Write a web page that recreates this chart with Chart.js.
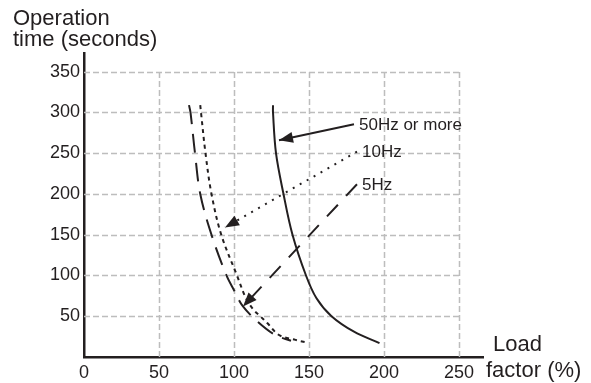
<!DOCTYPE html>
<html><head><meta charset="utf-8">
<script src="https://cdn.jsdelivr.net/npm/chart.js@4/dist/chart.umd.min.js"></script>
<style>html,body{margin:0;padding:0;background:#fff}canvas{display:block}</style>
</head><body>
<canvas id="c" width="591" height="383"></canvas>
<script>
// ---- data ----
const xTickValues = [0, 50, 100, 150, 200, 250];
const yTickValues = [0, 50, 100, 150, 200, 250, 300, 350];

const load50Hz = [126, 126, 128, 133, 139, 148, 155, 165, 180, 197];
const time50Hz = [309, 300, 250, 200, 150, 100, 72, 50, 31, 17];

const load10Hz = [77.5, 78, 81, 85, 91.5, 102, 108, 113, 117.5, 122, 130, 141, 148];
const time10Hz = [309, 300, 250, 200, 150, 100, 72, 58, 50, 42, 27, 21, 18];

const load5Hz = [70, 71, 74, 77.5, 85, 95, 100, 106, 116, 127.5, 138];
const time5Hz = [309, 300, 250, 200, 150, 100, 82, 62, 43, 27, 20];

const curveLabels = ['50Hz or more', '10Hz', '5Hz'];
const arrowStartLoad = [180, 182, 182];
const arrowStartTime = [285.5, 252, 212];
const arrowTipLoad = [130, 94, 106];
const arrowTipTime = [266, 159, 62];

const xTitle = ['Load', 'factor (%)'];
const yTitle = ['Operation', 'time (seconds)'];

// ---- build ----
const INK = '#231f20';
const pts = (xs, ys) => xs.map((x, i) => ({x, y: ys[i]}));
const curveStyles = [
  {borderDash: []},
  {borderDash: [4, 4]},
  {borderDash: [19, 10]}
];
const arrowDash = [[], [2, 6], [16, 12]];

const datasets = [
  {data: pts(load50Hz, time50Hz), ...curveStyles[0]},
  {data: pts(load10Hz, time10Hz), ...curveStyles[1]},
  {data: pts(load5Hz, time5Hz), ...curveStyles[2]}
].map(d => Object.assign(d, {borderColor: INK, borderWidth: 2, pointRadius: 0, tension: 0.35, fill: false}));

curveLabels.forEach((lab, i) => {
  datasets.push({
    data: [{x: arrowStartLoad[i], y: arrowStartTime[i]}, {x: arrowTipLoad[i], y: arrowTipTime[i]}],
    borderColor: INK, borderWidth: 2, borderDash: arrowDash[i], pointRadius: 0, tension: 0,
    isArrow: true, arrowLabel: lab
  });
});

const gridPlugin = {
  id: 'grid',
  beforeDatasetsDraw(chart) {
    const {ctx, scales: {x, y}} = chart;
    ctx.save();
    ctx.strokeStyle = '#bdbdbd';
    ctx.lineWidth = 1.5;
    ctx.setLineDash([6, 3]);
    const x0 = x.getPixelForValue(0), x1 = x.getPixelForValue(xTickValues[xTickValues.length - 1]);
    const y0 = y.getPixelForValue(0), y1 = y.getPixelForValue(yTickValues[yTickValues.length - 1]);
    xTickValues.forEach(v => {
      if (v === 0) return;
      const px = Math.round(x.getPixelForValue(v)) + 0.5;
      ctx.beginPath(); ctx.moveTo(px, y0); ctx.lineTo(px, y1); ctx.stroke();
    });
    yTickValues.forEach(v => {
      if (v === 0) return;
      const py = Math.round(y.getPixelForValue(v)) + 0.5;
      ctx.beginPath(); ctx.moveTo(x0, py); ctx.lineTo(x1, py); ctx.stroke();
    });
    ctx.restore();
  }
};

const arrowPlugin = {
  id: 'arrows',
  afterDatasetsDraw(chart) {
    const {ctx} = chart;
    ctx.save();
    chart.data.datasets.forEach((ds, i) => {
      if (!ds.isArrow) return;
      const meta = chart.getDatasetMeta(i);
      const p0 = meta.data[0], p1 = meta.data[1];
      const a = Math.atan2(p1.y - p0.y, p1.x - p0.x);
      const L = 14, W = 5.5;
      ctx.fillStyle = INK;
      ctx.beginPath();
      ctx.moveTo(p1.x, p1.y);
      ctx.lineTo(p1.x - L * Math.cos(a) + W * Math.sin(a), p1.y - L * Math.sin(a) - W * Math.cos(a));
      ctx.lineTo(p1.x - L * Math.cos(a) - W * Math.sin(a), p1.y - L * Math.sin(a) + W * Math.cos(a));
      ctx.closePath();
      ctx.fill();
      ctx.font = '17px "Liberation Sans", Arial, sans-serif';
      ctx.textAlign = 'left';
      ctx.textBaseline = 'middle';
      ctx.fillText(ds.arrowLabel, p0.x + 5, p0.y + 1);
    });
    // axis titles
    ctx.font = '22px "Liberation Sans", Arial, sans-serif';
    ctx.textBaseline = 'alphabetic';
    ctx.textAlign = 'left';
    ctx.fillStyle = INK;
    ctx.fillText(yTitle[0], 13, 25);
    ctx.fillText(yTitle[1], 13, 46);
    ctx.fillText(xTitle[0], 493, 351);
    ctx.fillText(xTitle[1], 486, 377);
    ctx.restore();
  }
};

const tickFont = {family: '"Liberation Sans", Arial, sans-serif', size: 18};

new Chart(document.getElementById('c'), {
  type: 'line',
  data: {datasets},
  options: {
    responsive: false,
    animation: false,
    events: [],
    layout: {padding: {top: 53, right: 108, left: 0, bottom: 0}},
    plugins: {legend: {display: false}, tooltip: {enabled: false}},
    scales: {
      x: {
        type: 'linear', min: 0, max: 266,
        afterBuildTicks: s => { s.ticks = xTickValues.map(v => ({value: v})); },
        afterFit: s => { s.height = 26; },
        ticks: {font: tickFont, color: INK, padding: 5, maxRotation: 0, autoSkip: false},
        grid: {display: false, drawTicks: false},
        border: {display: true, color: INK, width: 2.5}
      },
      y: {
        type: 'linear', min: 0, max: 373,
        afterBuildTicks: s => { s.ticks = yTickValues.map(v => ({value: v})); },
        afterFit: s => { s.width = 84; },
        ticks: {font: tickFont, color: INK, padding: 4, autoSkip: false,
                callback: v => v === 0 ? '' : String(v)},
        grid: {display: false, drawTicks: false},
        border: {display: true, color: INK, width: 2.5}
      }
    }
  },
  plugins: [gridPlugin, arrowPlugin]
});
</script>
</body></html>
